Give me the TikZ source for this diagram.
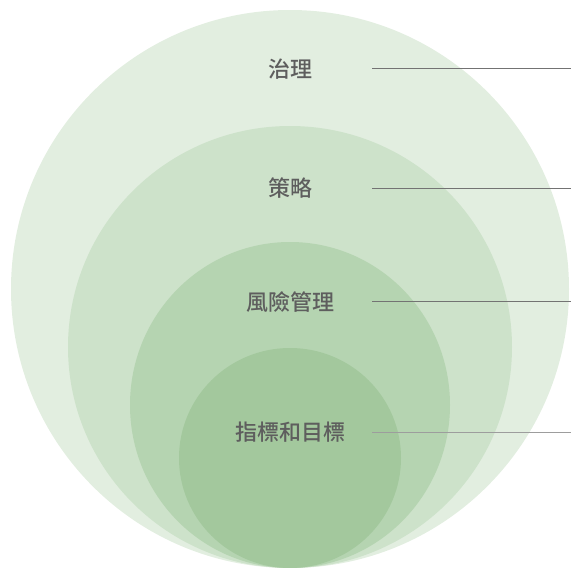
\documentclass[tikz,border=0pt]{standalone}
\usepackage{fontspec}
\newfontfamily\cjk{Noto Sans CJK TC Medium}
\usepackage{tikz}
\usetikzlibrary{positioning}

\definecolor{ringA}{HTML}{E2EEE0}
\definecolor{ringB}{HTML}{CDE2CA}
\definecolor{ringC}{HTML}{B5D4B1}
\definecolor{ringD}{HTML}{A3C89D}
\definecolor{labelgray}{HTML}{5E5E5E}
\definecolor{leadgray}{HTML}{737373}

\tikzset{
  layer/.style={font=\cjk\fontsize{22}{24}\selectfont, text=labelgray, inner sep=0pt},
  lead/.style={draw=leadgray, line width=1pt}
}

\begin{document}
\begin{tikzpicture}[x=1pt, y=-1pt]
  \useasboundingbox (0,0) rectangle (571,568);
  \fill[ringA] (290,289) ellipse [x radius=279, y radius=279];
  \fill[ringB] (290,347) ellipse [x radius=222, y radius=221];
  \fill[ringC] (290,405) ellipse [x radius=160, y radius=163];
  \fill[ringD] (290,458) ellipse [x radius=111, y radius=110];

  \node[layer] (gov)  at (290,69)  {治理};
  \node[layer] (str)  at (290,188) {策略};
  \node[layer] (risk) at (290,302) {風險管理};
  \node[layer] (met)  at (290,432) {指標和目標};

  \coordinate (gov s)  at (372,68);  \coordinate (gov e)  at (571,68);
  \coordinate (str s)  at (372,188); \coordinate (str e)  at (571,188);
  \coordinate (risk s) at (372,301); \coordinate (risk e) at (571,301);
  \coordinate (met s)  at (372,432); \coordinate (met e)  at (571,432);

  \draw[lead] (gov s) -- (gov e);
  \draw[lead] (str s) -- (str e);
  \draw[lead] (risk s) -- (risk e);
  \draw[lead, draw=leadgray!70] (met s) -- (met e);
\end{tikzpicture}
\end{document}
